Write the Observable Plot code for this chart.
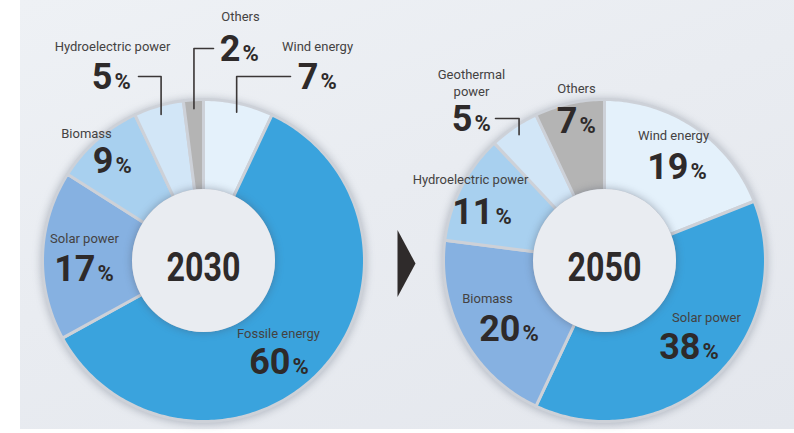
<!DOCTYPE html>
<html>
<head>
<meta charset="utf-8">
<script src="https://cdn.jsdelivr.net/npm/d3@7"></script>
<script src="https://cdn.jsdelivr.net/npm/@observablehq/plot@0.6"></script>
<style>
  html, body { margin: 0; padding: 0; background: #ffffff; }
  #chart svg {
    display: block;
    background: linear-gradient(160deg, #eef1f5 0%, #e9ecf1 45%, #e4e7ed 100%) no-repeat;
    background-position: 20px 0;
    background-size: 774px 429px;
  }
</style>
</head>
<body>
<div id="chart"></div>
<script>
// ---------- data ----------
const years = ["2030", "2050"];
const sources2030 = ["Wind energy", "Fossile energy", "Solar power", "Biomass", "Hydroelectric power", "Others"];
const shares2030 = [7, 60, 17, 9, 5, 2];
const sources2050 = ["Wind energy", "Solar power", "Biomass", "Hydroelectric power", "Geothermal power", "Others"];
const shares2050 = [19, 38, 20, 11, 5, 7];

// ---------- layout & style ----------
const W = 794, H = 433;
const layout = {
  center: {"2030": [203, 260], "2050": [604, 260]},
  rOuter: 161, rInner: 70, rLeader: 152,
  arrow: {x: 397, y: 263, w: 18, h: 67},
  yearWidth: 74
};
const palette = ["#e4f1fb", "#3aa3dd", "#86b1e1", "#a8d0ef", "#d2e6f7", "#b4b4b4"];
const labelLayout = [
  {year: "2030", source: "Others", nx: 240, ny: 20, vx: 240, vy: 60, lx: 213},
  {year: "2030", source: "Hydroelectric power", nx: 112, ny: 50, vx: 112, vy: 88, lx: 138},
  {year: "2030", source: "Wind energy", nx: 317, ny: 50, vx: 318, vy: 88, lx: 290},
  {year: "2030", source: "Biomass", nx: 86, ny: 137, vx: 113, vy: 172},
  {year: "2030", source: "Solar power", nx: 84, ny: 242, vx: 95, vy: 280},
  {year: "2030", source: "Fossile energy", nx: 278, ny: 337, vx: 290, vy: 373},
  {year: "2050", source: "Geothermal power", nx: 471, ny: 95, vx: 472, vy: 130, lx: 495, wrap: true},
  {year: "2050", source: "Others", nx: 576, ny: 92, vx: 577, vy: 132},
  {year: "2050", source: "Wind energy", nx: 673, ny: 139, vx: 688, vy: 178},
  {year: "2050", source: "Hydroelectric power", nx: 470, ny: 183, vx: 493, vy: 223},
  {year: "2050", source: "Biomass", nx: 487, ny: 302, vx: 520, vy: 340},
  {year: "2050", source: "Solar power", nx: 706, ny: 321, vx: 700, vy: 358}
];

const nameFont = "Roboto, 'Liberation Sans', sans-serif";
const numFont = "Roboto, 'Liberation Sans', sans-serif";

// ---------- build geometry from data ----------
const datasets = [
  {year: "2030", sources: sources2030, shares: shares2030},
  {year: "2050", sources: sources2050, shares: shares2050}
];
const pie = d3.pie().sort(null).value(d => d);
const polar = (c, r, a) => [c[0] + r * Math.sin(a), c[1] - r * Math.cos(a)];

const slicePts = [];
const sliceInfo = [];
for (const ds of datasets) {
  const c = layout.center[ds.year];
  pie(ds.shares).forEach((p, i) => {
    const key = ds.year + "|" + ds.sources[i];
    sliceInfo.push({year: ds.year, source: ds.sources[i], value: ds.shares[i], mid: (p.startAngle + p.endAngle) / 2});
    const n = Math.max(2, Math.ceil((p.endAngle - p.startAngle) / (Math.PI / 180)));
    const pts = [];
    for (let k = 0; k <= n; k++) pts.push(polar(c, layout.rOuter, p.startAngle + (p.endAngle - p.startAngle) * k / n));
    for (let k = n; k >= 0; k--) pts.push(polar(c, layout.rInner, p.startAngle + (p.endAngle - p.startAngle) * k / n));
    pts.push(pts[0]);
    pts.forEach(([x, y]) => slicePts.push({key, shade: i, x, y}));
  });
}

const holes = years.map(y => ({year: y, x: layout.center[y][0], y: layout.center[y][1]}));

const labels = labelLayout.map(l => {
  const s = sliceInfo.find(d => d.year === l.year && d.source === l.source);
  return {...l, name: l.wrap ? s.source.replace(" ", "\n") : s.source, value: String(s.value), mid: s.mid};
});

const leaderPts = [];
labels.filter(l => l.lx != null).forEach(l => {
  const c = layout.center[l.year];
  const [bx, by] = polar(c, layout.rLeader, l.mid);
  const ly = l.vy - 12;
  [[l.lx, ly], [bx, ly], [bx, by]].forEach(([x, y]) => leaderPts.push({key: l.year + l.source, x, y}));
});

const a = layout.arrow;
const arrowPts = [[a.x, a.y - a.h / 2], [a.x + a.w, a.y], [a.x, a.y + a.h / 2], [a.x, a.y - a.h / 2]].map(([x, y]) => ({x, y}));

// ---------- plot ----------
const chart = Plot.plot({
  width: W, height: H,
  margin: 0,
  x: {domain: [0, W], range: [0, W], axis: null},
  y: {domain: [0, H], range: [0, H], axis: null},
  color: {type: "ordinal", domain: d3.range(palette.length), range: palette},
  marks: [
    Plot.line(slicePts, {x: "x", y: "y", z: "key", fill: "shade", stroke: "#cdd1d8", strokeWidth: 3, strokeLinejoin: "round", curve: "linear"}),
    Plot.dot(holes, {x: "x", y: "y", r: layout.rInner + 1.5, fill: "#e9ecf1", stroke: "none"}),
    Plot.line(arrowPts, {x: "x", y: "y", fill: "#2f2b2b", stroke: "none"}),
    Plot.line(leaderPts, {x: "x", y: "y", z: "key", stroke: "#3a3636", strokeWidth: 1.6, curve: "linear"}),
    Plot.text(labels, {x: "nx", y: "ny", text: "name", textAnchor: "middle", lineAnchor: "bottom", lineHeight: 1.25, fontSize: 13, fill: "#444242", fontFamily: nameFont}),
    Plot.text(labels, {x: "vx", y: "vy", text: "value", textAnchor: "end", lineAnchor: "bottom", fontSize: 36, fontWeight: "bold", fill: "#2e2a2a", fontFamily: numFont}),
    Plot.text(labels, {x: d => d.vx + 2, y: "vy", text: () => "%", textAnchor: "start", lineAnchor: "bottom", fontSize: 22, fontWeight: "bold", fill: "#2e2a2a", fontFamily: numFont}),
    Plot.text(holes, {x: "x", y: d => d.y + 20, text: "year", textAnchor: "middle", lineAnchor: "bottom", fontSize: 41, fontWeight: "bold", fill: "#2e2a2a", fontFamily: numFont})
  ]
});

const groups = chart.querySelectorAll(":scope > g");
if (groups[0]) groups[0].style.filter = "drop-shadow(0px 1px 4px rgba(70,80,100,0.35))";
if (groups[1]) groups[1].style.filter = "drop-shadow(0px 0px 4px rgba(70,80,100,0.45))";
// condense the year digits to the narrow face of the original
const yearGroup = groups[groups.length - 1];
if (yearGroup) yearGroup.querySelectorAll("text").forEach(t => {
  t.setAttribute("textLength", layout.yearWidth);
  t.setAttribute("lengthAdjust", "spacingAndGlyphs");
});
document.getElementById("chart").appendChild(chart);
</script>
</body>
</html>
